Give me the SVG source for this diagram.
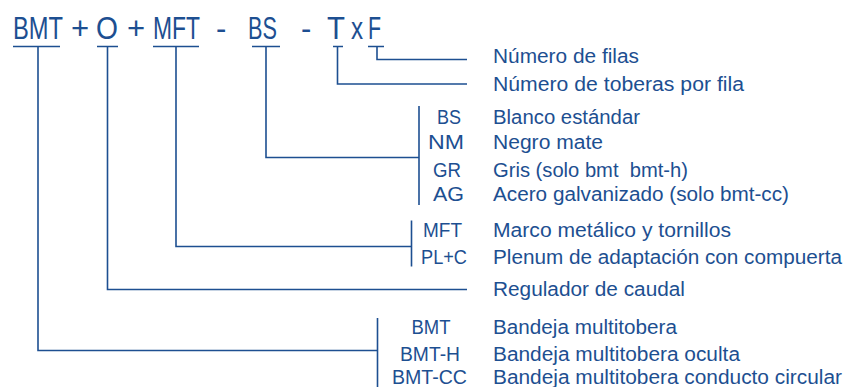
<svg xmlns="http://www.w3.org/2000/svg" width="848" height="387" viewBox="0 0 848 387">
<style>
text { font-family: "Liberation Sans", Arial, sans-serif; fill: #1d4f91; }
.h { font-size: 31px; }
.t { font-size: 20px; }
.c { font-size: 20px; text-anchor: middle; }
.ln { fill: none; stroke: #1d4f91; stroke-width: 1.6; }
</style>
<rect width="848" height="387" fill="#ffffff"/>
<g id="code">
<text class="h" transform="translate(13,39) scale(0.765,1)">BMT</text>
<text class="h" x="71" y="39">+</text>
<text class="h" transform="translate(96,39) scale(0.91,1)">O</text>
<text class="h" x="127" y="39">+</text>
<text class="h" transform="translate(153,39) scale(0.738,1)">MFT</text>
<text class="h" x="216" y="39">-</text>
<text class="h" transform="translate(248,39) scale(0.70,1)">BS</text>
<text class="h" x="301" y="39">-</text>
<text class="h" transform="translate(327,39) scale(0.95,1)">T</text>
<text class="h" transform="translate(351,39) scale(0.78,1)">x</text>
<text class="h" transform="translate(368,39) scale(0.69,1)">F</text>
</g>
<g id="connectors">
<path class="ln" d="M13,46.5 H60 M38,46.5 V350.5 H377.5"/>
<path class="ln" d="M97,46.5 H118 M107.5,46.5 V289.5 H467"/>
<path class="ln" d="M153,46.5 H199 M176,46.5 V246.5 H411.5"/>
<path class="ln" d="M252,46.5 H280 M266,46.5 V157.5 H419"/>
<path class="ln" d="M333,46.5 H343 M337.5,46.5 V84 H467"/>
<path class="ln" d="M368,46.5 H384 M377,46.5 V59.5 H467"/>
<path class="ln" d="M419,106 V205"/>
<path class="ln" d="M411.5,220.5 V266.5"/>
<path class="ln" d="M377.5,318 V387"/>
</g>
<g id="filas">
<text class="t" x="493" y="63" textLength="146" lengthAdjust="spacingAndGlyphs">Número de filas</text>
</g>
<g id="toberas">
<text class="t" x="493" y="91" textLength="251" lengthAdjust="spacingAndGlyphs">Número de toberas por fila</text>
</g>
<g id="acabado">
<text class="c" x="449" y="123.5" textLength="24" lengthAdjust="spacingAndGlyphs">BS</text>
<text class="c" x="446" y="149" textLength="36" lengthAdjust="spacingAndGlyphs">NM</text>
<text class="c" x="447" y="176.5" textLength="28" lengthAdjust="spacingAndGlyphs">GR</text>
<text class="c" x="448.5" y="201" textLength="31" lengthAdjust="spacingAndGlyphs">AG</text>
<text class="t" x="493" y="123.5" textLength="147" lengthAdjust="spacingAndGlyphs">Blanco estándar</text>
<text class="t" x="493" y="149" textLength="110" lengthAdjust="spacingAndGlyphs">Negro mate</text>
<text class="t" x="493" y="176.5" textLength="195" lengthAdjust="spacingAndGlyphs" xml:space="preserve">Gris (solo bmt  bmt-h)</text>
<text class="t" x="493" y="201" textLength="296" lengthAdjust="spacingAndGlyphs">Acero galvanizado (solo bmt-cc)</text>
</g>
<g id="montaje">
<text class="c" x="442.5" y="236.5" textLength="39" lengthAdjust="spacingAndGlyphs">MFT</text>
<text class="c" x="444" y="264" textLength="46" lengthAdjust="spacingAndGlyphs">PL+C</text>
<text class="t" x="493" y="236.5" textLength="238" lengthAdjust="spacingAndGlyphs">Marco metálico y tornillos</text>
<text class="t" x="493" y="264" textLength="349" lengthAdjust="spacingAndGlyphs">Plenum de adaptación con compuerta</text>
</g>
<g id="regulador">
<text class="t" x="493" y="296" textLength="192" lengthAdjust="spacingAndGlyphs">Regulador de caudal</text>
</g>
<g id="modelo">
<text class="c" x="431" y="334" textLength="39" lengthAdjust="spacingAndGlyphs">BMT</text>
<text class="c" x="430" y="361" textLength="60" lengthAdjust="spacingAndGlyphs">BMT-H</text>
<text class="c" x="429.5" y="384" textLength="75" lengthAdjust="spacingAndGlyphs">BMT-CC</text>
<text class="t" x="493" y="334" textLength="184" lengthAdjust="spacingAndGlyphs">Bandeja multitobera</text>
<text class="t" x="493" y="361" textLength="247" lengthAdjust="spacingAndGlyphs">Bandeja multitobera oculta</text>
<text class="t" x="493" y="384" textLength="349" lengthAdjust="spacingAndGlyphs">Bandeja multitobera conducto circular</text>
</g>
</svg>
